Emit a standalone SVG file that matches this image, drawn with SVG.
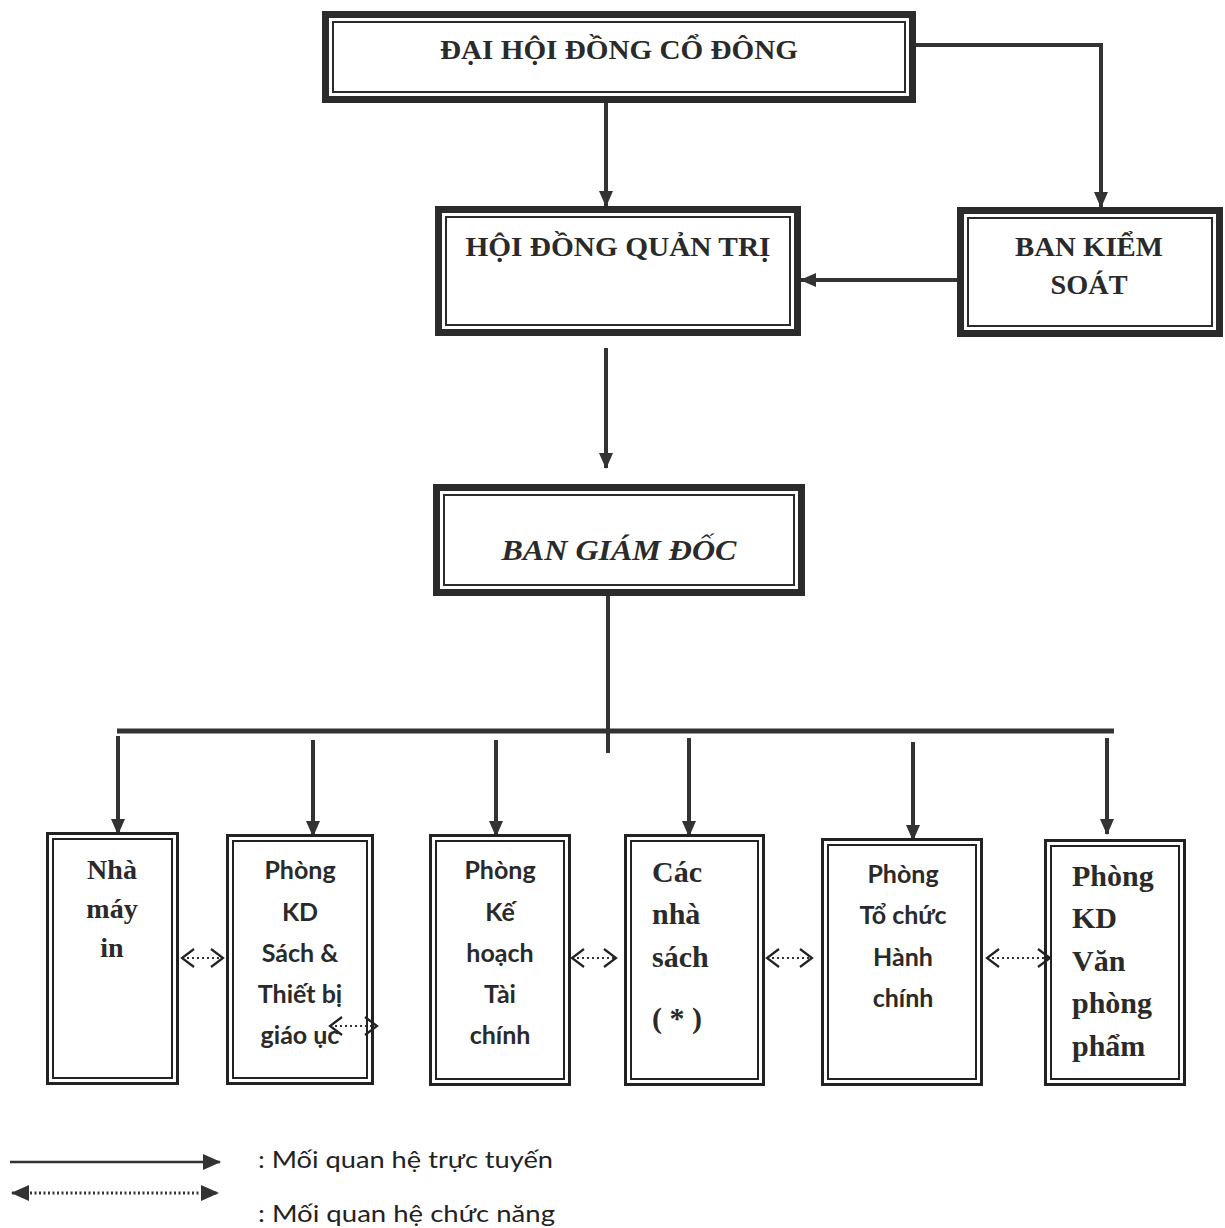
<svg xmlns="http://www.w3.org/2000/svg" width="1225" height="1228" viewBox="0 0 1225 1228">
<defs>
<style>
.thick{fill:none;stroke:#2b2b2b;stroke-width:7}
.thin{fill:none;stroke:#2b2b2b;stroke-width:2}
.o{fill:none;stroke:#222;stroke-width:3}
.i{fill:none;stroke:#222;stroke-width:2}
.ser{font-family:"Liberation Serif","Times New Roman",serif;font-weight:bold;fill:#2a2a2a}
.san{font-family:Lato,"Liberation Sans",sans-serif;font-weight:bold;fill:#2a2a2a}
.leg{font-family:Lato,"Liberation Sans",sans-serif;fill:#222;font-size:24px}
.conn{fill:none;stroke:#333;stroke-width:4}
.dot{fill:none;stroke:#333;stroke-width:2;stroke-dasharray:2 3}
</style>
<marker id="arr" markerUnits="userSpaceOnUse" markerWidth="16" markerHeight="14" refX="15" refY="7" orient="auto">
<path d="M0,0 L16,7 L0,14 z" fill="#333"/>
</marker>
<marker id="chev" markerUnits="userSpaceOnUse" markerWidth="16" markerHeight="22" refX="13" refY="10" orient="auto-start-reverse">
<path d="M1,1 L13,10 L1,19" fill="none" stroke="#222" stroke-width="2.2"/>
</marker>
<marker id="tri" markerUnits="userSpaceOnUse" markerWidth="18" markerHeight="16" refX="17" refY="8" orient="auto-start-reverse">
<path d="M0,0 L18,8 L0,16 z" fill="#333"/>
</marker>
</defs>
<rect width="1225" height="1228" fill="#fff"/>

<g id="connectors">
<line class="conn" x1="606" y1="103" x2="606" y2="206" marker-end="url(#arr)"/>
<polyline class="conn" points="916,45 1101,45 1101,207" marker-end="url(#arr)"/>
<line class="conn" x1="957" y1="280" x2="801" y2="280" marker-end="url(#arr)"/>
<line class="conn" x1="606" y1="348" x2="606" y2="468" marker-end="url(#arr)"/>
<line class="conn" x1="608" y1="596" x2="608" y2="753"/>
<line x1="117" y1="731" x2="1114" y2="731" stroke="#333" stroke-width="5"/>
<line class="conn" stroke-width="3.5" x1="118" y1="736" x2="118" y2="834" marker-end="url(#arr)"/>
<line class="conn" stroke-width="3.5" x1="313" y1="740" x2="313" y2="836" marker-end="url(#arr)"/>
<line class="conn" stroke-width="3.5" x1="496" y1="740" x2="496" y2="836" marker-end="url(#arr)"/>
<line class="conn" stroke-width="3.5" x1="689" y1="738" x2="689" y2="836" marker-end="url(#arr)"/>
<line class="conn" stroke-width="3.5" x1="913" y1="742" x2="913" y2="840" marker-end="url(#arr)"/>
<line class="conn" stroke-width="3.5" x1="1107" y1="738" x2="1107" y2="834" marker-end="url(#arr)"/>
<line class="dot" x1="182" y1="958" x2="223" y2="958" marker-start="url(#chev)" marker-end="url(#chev)"/>
<line class="dot" x1="330" y1="1026" x2="377" y2="1026" marker-start="url(#chev)" marker-end="url(#chev)"/>
<line class="dot" x1="572" y1="958" x2="616" y2="958" marker-start="url(#chev)" marker-end="url(#chev)"/>
<line class="dot" x1="767" y1="958" x2="812" y2="958" marker-start="url(#chev)" marker-end="url(#chev)"/>
<line class="dot" x1="987" y1="958" x2="1050" y2="958" marker-start="url(#chev)" marker-end="url(#chev)"/>
</g>

<g id="dhdcd">
<rect class="thick" x="325.5" y="14.5" width="587" height="85"/>
<rect class="thin" x="333" y="22" width="572" height="70"/>
<text class="ser" x="619" y="59" font-size="28" text-anchor="middle" textLength="358" lengthAdjust="spacingAndGlyphs">ĐẠI HỘI ĐỒNG CỔ ĐÔNG</text>
</g>

<g id="hdqt">
<rect class="thick" x="438.5" y="209.5" width="359" height="123"/>
<rect class="thin" x="446" y="217" width="344" height="108"/>
<text class="ser" x="618" y="256" font-size="28" text-anchor="middle" textLength="305" lengthAdjust="spacingAndGlyphs">HỘI ĐỒNG QUẢN TRỊ</text>
</g>

<g id="bks">
<rect class="thick" x="960.5" y="210.5" width="259" height="123"/>
<rect class="thin" x="968" y="218" width="244" height="108"/>
<text class="ser" x="1089" y="256" font-size="28" text-anchor="middle" textLength="148" lengthAdjust="spacingAndGlyphs">BAN KIỂM</text>
<text class="ser" x="1089" y="294" font-size="28" text-anchor="middle" textLength="77" lengthAdjust="spacingAndGlyphs">SOÁT</text>
</g>

<g id="bgd">
<rect class="thick" x="436.5" y="487.5" width="365" height="105"/>
<rect class="thin" x="444" y="495" width="350" height="90"/>
<text class="ser" x="619" y="560" font-size="30" font-style="italic" text-anchor="middle" textLength="235" lengthAdjust="spacingAndGlyphs">BAN GIÁM ĐỐC</text>
</g>

<g id="nha-may-in">
<rect class="o" x="47.5" y="833.5" width="130" height="250"/>
<rect class="i" x="53" y="839" width="119" height="239"/>
<text class="ser" font-size="28" text-anchor="middle"><tspan x="112" y="879">Nhà</tspan><tspan x="112" y="918">máy</tspan><tspan x="112" y="957">in</tspan></text>
</g>

<g id="phong-kd-sach">
<rect class="o" x="227.5" y="835.5" width="145" height="248"/>
<rect class="i" x="233" y="841" width="134" height="237"/>
<text class="san" font-size="25" text-anchor="middle"><tspan x="300" y="879">Phòng</tspan><tspan x="300" y="921">KD</tspan><tspan x="300" y="962">Sách &amp;</tspan><tspan x="300" y="1003">Thiết bị</tspan><tspan x="300" y="1044">giáo ục</tspan></text>
</g>

<g id="phong-ke-hoach">
<rect class="o" x="430.5" y="835.5" width="139" height="249"/>
<rect class="i" x="436" y="841" width="128" height="238"/>
<text class="san" font-size="25" text-anchor="middle"><tspan x="500" y="879">Phòng</tspan><tspan x="500" y="921">Kế</tspan><tspan x="500" y="962">hoạch</tspan><tspan x="500" y="1003">Tài</tspan><tspan x="500" y="1044">chính</tspan></text>
</g>

<g id="cac-nha-sach">
<rect class="o" x="625.5" y="835.5" width="138" height="249"/>
<rect class="i" x="631" y="841" width="127" height="238"/>
<text class="ser" font-size="30"><tspan x="652" y="882">Các</tspan><tspan x="652" y="924">nhà</tspan><tspan x="652" y="967">sách</tspan><tspan x="652" y="1028">( * )</tspan></text>
</g>

<g id="phong-to-chuc">
<rect class="o" x="822.5" y="839.5" width="159" height="245"/>
<rect class="i" x="828" y="845" width="148" height="234"/>
<text class="san" font-size="25" text-anchor="middle"><tspan x="903" y="883">Phòng</tspan><tspan x="903" y="924">Tổ chức</tspan><tspan x="903" y="966">Hành</tspan><tspan x="903" y="1007">chính</tspan></text>
</g>

<g id="phong-kd-vpp">
<rect class="o" x="1045.5" y="840.5" width="139" height="244"/>
<rect class="i" x="1051" y="846" width="128" height="233"/>
<text class="ser" font-size="30"><tspan x="1072" y="886">Phòng</tspan><tspan x="1072" y="928">KD</tspan><tspan x="1072" y="971">Văn</tspan><tspan x="1072" y="1013">phòng</tspan><tspan x="1072" y="1056">phẩm</tspan></text>
</g>

<g id="legend">
<line x1="10" y1="1162" x2="220" y2="1162" stroke="#333" stroke-width="2.5" marker-end="url(#tri)"/>
<line x1="12" y1="1193" x2="218" y2="1193" stroke="#333" stroke-width="3" stroke-dasharray="2 2.5" marker-start="url(#tri)" marker-end="url(#tri)"/>
<text class="leg" x="258" y="1168" textLength="295" lengthAdjust="spacingAndGlyphs">: Mối quan hệ trực tuyến</text>
<text class="leg" x="258" y="1222" textLength="297" lengthAdjust="spacingAndGlyphs">: Mối quan hệ chức năng</text>
</g>
</svg>
